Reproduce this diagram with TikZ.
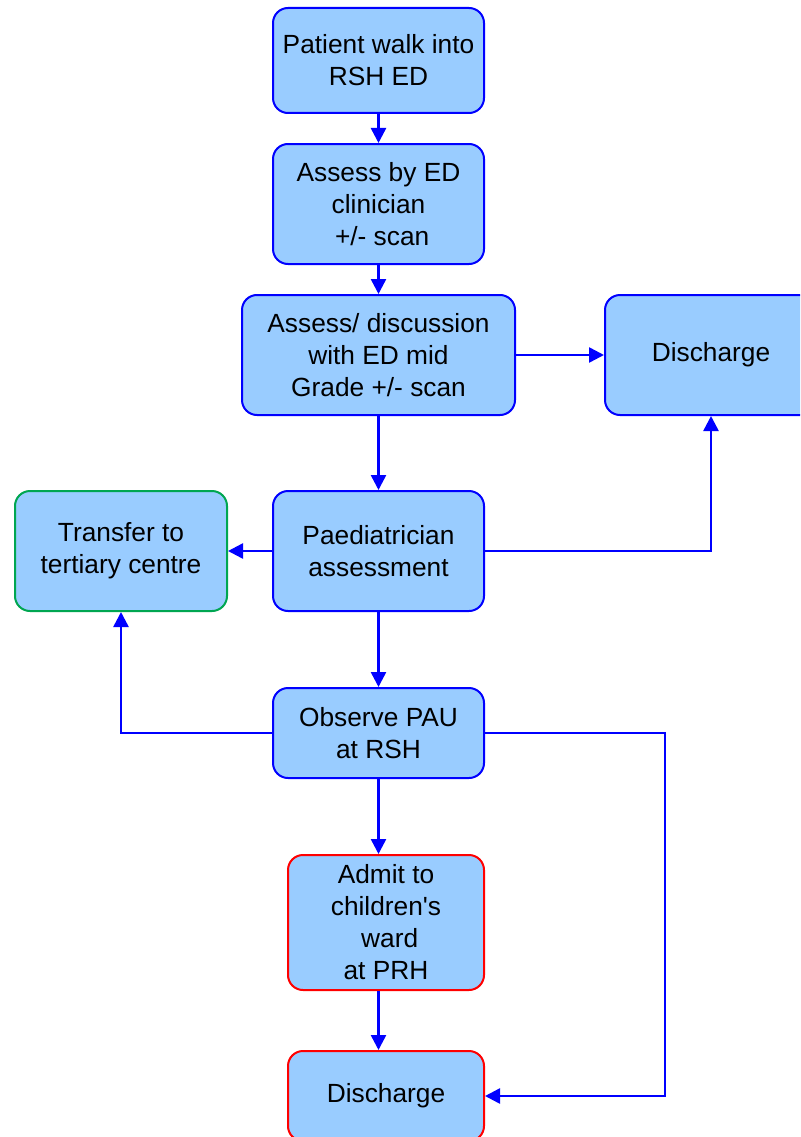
\documentclass[tikz,border=0pt]{standalone}
\usepackage{fontspec}
\setmainfont{Liberation Sans}
\usetikzlibrary{arrows.meta}
\definecolor{boxfill}{HTML}{99CCFF}
\definecolor{edgeblue}{HTML}{0000FF}
\definecolor{edgegreen}{HTML}{00A651}
\definecolor{edgered}{HTML}{FF0000}
\begin{document}
\begin{tikzpicture}[x=1pt,y=-1pt,
        box/.style={draw=edgeblue,fill=boxfill,line width=2pt,rounded corners=15pt,
            align=center,inner sep=0pt,font=\fontsize{26.3}{32}\selectfont},
        link/.style={edgeblue,line width=2.5pt,-{Triangle[length=15pt,width=15pt]}}]
        \clip (0,0) rectangle (800,1137);

        \node[box,minimum width=211pt,minimum height=105pt] (walkin) at (378.5,60.5) {Patient walk into\\RSH ED};
        \node[box,minimum width=211pt,minimum height=120pt] (edassess) at (378.5,204) {Assess by ED\\clinician\\\ +/- scan};
        \node[box,minimum width=273pt,minimum height=120pt] (midgrade) at (378.5,355) {Assess/ discussion\\with ED mid\\Grade +/- scan};
        \node[box,minimum width=212pt,minimum height=120pt] (dischtop) at (711,355) {Discharge};
        \node[box,minimum width=211pt,minimum height=120pt] (paed) at (378.5,551) {Paediatrician\\assessment};
        \node[box,draw=edgegreen,minimum width=212pt,minimum height=120pt] (transfer) at (121,551) {Transfer to\\tertiary centre};
        \node[box,minimum width=211pt,minimum height=90pt] (observe) at (378.5,733) {Observe PAU\\at RSH};
        \node[box,draw=edgered,minimum width=196pt,minimum height=135pt] (admit) at (386,922.5) {Admit to\\children\textquotesingle s\\\ ward\\at PRH};
        \node[box,draw=edgered,minimum width=196pt,minimum height=90pt] (dischbot) at (386,1096) {Discharge};

        \coordinate (bend) at (665,733);

        \draw[link] (walkin) -- (edassess);
        \draw[link] (edassess) -- (midgrade);
        \draw[link] (midgrade) -- (dischtop);
        \draw[link] (midgrade) -- (paed);
        \draw[link] (paed) -- (transfer);
        \draw[link] (paed.east) -| (dischtop.south);
        \draw[link] (paed) -- (observe);
        \draw[link] (observe.west) -| (transfer.south);
        \draw[link] (observe.east) -- (bend) |- (dischbot.east);
        \draw[link] (observe.south) -- (observe.south |- admit.north);
        \draw[link] (admit.south -| observe.south) -- (dischbot.north -| observe.south);
    \end{tikzpicture}
\end{document}
